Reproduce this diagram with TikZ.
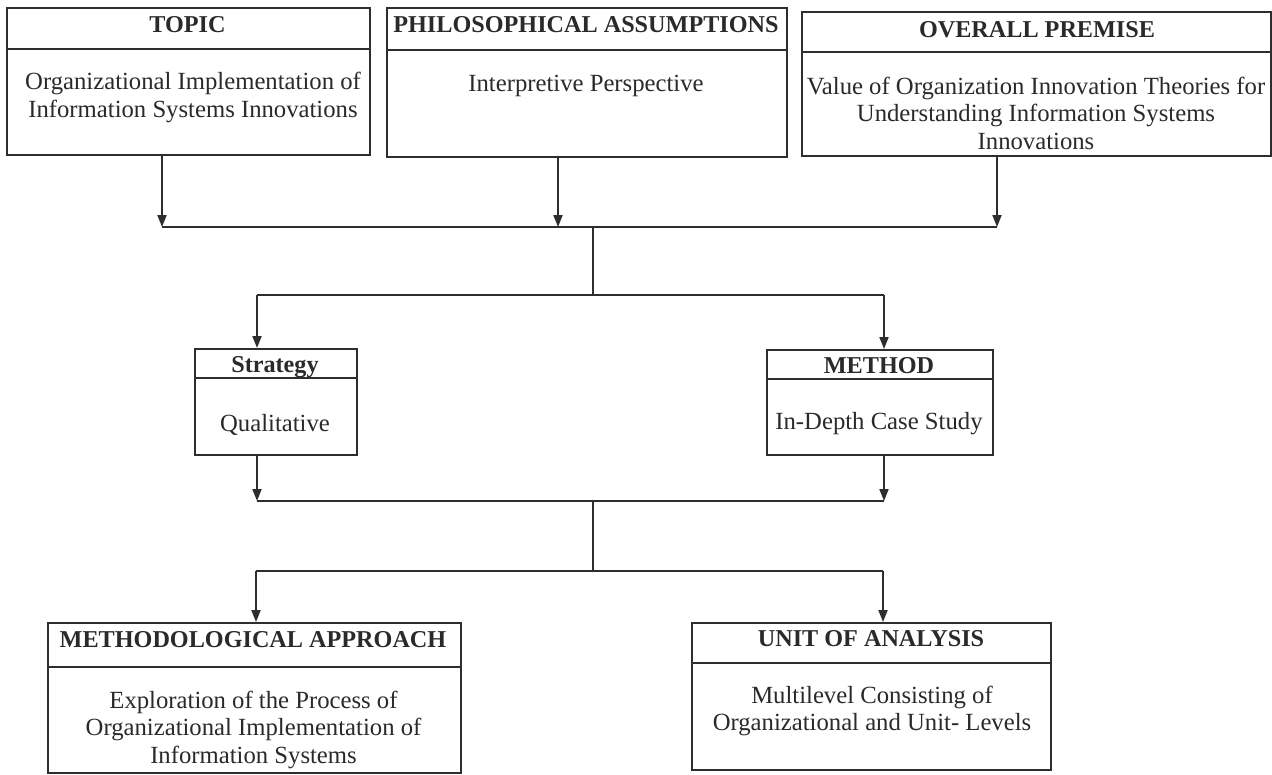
\documentclass[tikz,border=0pt]{standalone}
\usepackage{fontspec}
\setmainfont{Liberation Serif}
\usetikzlibrary{arrows.meta}
\definecolor{ln}{HTML}{2E2E2E}
\definecolor{tx}{HTML}{2A2A2A}
\newcommand{\boxlines}[1]{\begin{tabular}[t]{@{}c@{}}#1\end{tabular}}
\begin{document}
\begin{tikzpicture}[x=1pt,y=-1pt,
 frame/.style={draw=ln, line width=1.8pt, inner sep=0pt, anchor=north west},
 ttl/.style={font=\fontsize{24.2}{27.5}\selectfont\bfseries, text=tx, anchor=base, inner sep=0pt},
 bdy/.style={font=\fontsize{24.7}{27.5}\selectfont, text=tx, anchor=base, inner sep=0pt},
 conn/.style={draw=ln, line width=1.8pt},
 arr/.style={conn, -{Triangle[width=9pt,length=12pt]}}]

\useasboundingbox[fill=white] (0,0) rectangle (1272,774);

% boxes
\node[frame, minimum width=363pt, minimum height=147pt] (topic) at (6,7) {};
\node[frame, minimum width=400pt, minimum height=149pt] (phil) at (386,7) {};
\node[frame, minimum width=469pt, minimum height=144pt] (premise) at (801,11) {};
\node[frame, minimum width=162pt, minimum height=106pt] (strategy) at (194,348) {};
\node[frame, minimum width=226pt, minimum height=105pt] (method) at (766,349) {};
\node[frame, minimum width=413pt, minimum height=150pt] (approach) at (47,622) {};
\node[frame, minimum width=359pt, minimum height=147pt] (unit) at (691,622) {};

% header separators
\draw[conn] (topic.west |- 0,49) -- (topic.east |- 0,49);
\draw[conn] (phil.west |- 0,50) -- (phil.east |- 0,50);
\draw[conn] (premise.west |- 0,52) -- (premise.east |- 0,52);
\draw[conn] (strategy.west |- 0,378) -- (strategy.east |- 0,378);
\draw[conn] (method.west |- 0,379) -- (method.east |- 0,379);
\draw[conn] (approach.west |- 0,667) -- (approach.east |- 0,667);
\draw[conn] (unit.west |- 0,663) -- (unit.east |- 0,663);

% titles
\node[ttl] (topic-t) at (187.5,32) {TOPIC};
\node[ttl] (phil-t) at (586,32) {PHILOSOPHICAL ASSUMPTIONS};
\node[ttl] (premise-t) at (1037,37) {OVERALL PREMISE};
\node[ttl] (strategy-t) at (275,372) {Strategy};
\node[ttl] (method-t) at (879,373) {METHOD};
\node[ttl] (approach-t) at (253,647) {METHODOLOGICAL APPROACH};
\node[ttl] (unit-t) at (871,646) {UNIT OF ANALYSIS};

% bodies
\node[bdy] (topic-b) at (193,89.5) {\boxlines{Organizational Implementation of\\Information Systems Innovations}};
\node[bdy] (phil-b) at (586,91) {\boxlines{Interpretive Perspective}};
\node[bdy] (premise-b) at (1036,94) {\boxlines{Value of Organization Innovation Theories for\\Understanding Information Systems\\Innovations}};
\node[bdy] (strategy-b) at (275,431) {\boxlines{Qualitative}};
\node[bdy] (method-b) at (879,429) {\boxlines{In-Depth Case Study}};
\node[bdy] (approach-b) at (253.5,708) {\boxlines{Exploration of the Process of\\Organizational Implementation of\\Information Systems}};
\node[bdy] (unit-b) at (872,703) {\boxlines{Multilevel Consisting of\\Organizational and Unit- Levels}};

% junction coordinates
\coordinate (a1) at (162,227);
\coordinate (a2) at (558,227);
\coordinate (a3) at (997,227);
\coordinate (j1) at (593,227);
\coordinate (j2) at (593,295);
\coordinate (b1) at (257,295);
\coordinate (b2) at (884,295);
\coordinate (c1) at (257,501);
\coordinate (c2) at (884,501);
\coordinate (j3) at (593,501);
\coordinate (j4) at (593,571);
\coordinate (d1) at (256,571);
\coordinate (d2) at (883,571);

% connectors
\draw[arr] (topic.south -| a1) -- (a1);
\draw[arr] (phil.south -| a2) -- (a2);
\draw[arr] (premise.south -| a3) -- (a3);
\draw[conn] (a1) -- (a3);
\draw[conn] (j1) -- (j2);
\draw[conn] (b1) -- (b2);
\draw[arr] (b1) -- (strategy.north -| b1);
\draw[arr] (b2) -- (method.north -| b2);
\draw[arr] (strategy.south -| c1) -- (c1);
\draw[arr] (method.south -| c2) -- (c2);
\draw[conn] (c1) -- (c2);
\draw[conn] (j3) -- (j4);
\draw[conn] (d1) -- (d2);
\draw[arr] (d1) -- (approach.north -| d1);
\draw[arr] (d2) -- (unit.north -| d2);
\end{tikzpicture}
\end{document}
